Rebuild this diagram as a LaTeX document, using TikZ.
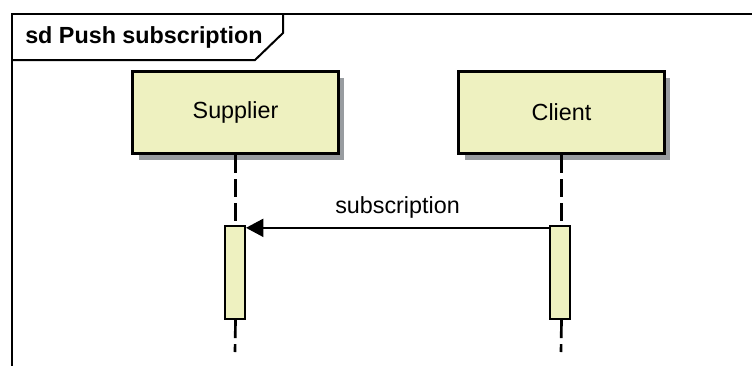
\documentclass[tikz,border=0pt]{standalone}
\usepackage{fontspec}
\setmainfont{Liberation Sans}
\usetikzlibrary{arrows.meta,shadows}
\definecolor{lifefill}{RGB}{238,241,192}
\definecolor{shadowgrey}{RGB}{152,156,160}
\tikzset{
  lifebox/.style={draw=black, line width=2.25pt, fill=lifefill,
    minimum width=154pt, minimum height=61.5pt, inner sep=0pt,
    font=\fontsize{17.5pt}{19pt}\selectfont,
    drop shadow={shadow xshift=4.5pt, shadow yshift=-4.5pt, fill=shadowgrey, opacity=1}},
  actbar/.style={draw=black, line width=1.5pt, fill=lifefill,
    minimum width=15pt, minimum height=70pt, inner sep=0pt},
  lifeline/.style={line width=2pt, dash pattern=on 13.5pt off 4.5pt},
  msg/.style={line width=1.5pt, -{Triangle[length=13pt, width=13.5pt]}},
  framebox/.style={line width=1.5pt}
}
\begin{document}
\begin{tikzpicture}[x=0.75pt, y=-0.75pt]
  \useasboundingbox (0,0) rectangle (752,365);
  % sequence diagram frame and its name tab
  \draw[framebox] (12,366) -- (12,14) -- (753,14);
  \draw[framebox] (12,60) -- (255,60) -- (283,33) -- (283,14);
  \node[anchor=base west, inner sep=0pt, font=\bfseries\fontsize{17.5pt}{19pt}\selectfont]
    (title) at (25,43) {sd Push subscription};
  % lifeline heads
  \node[lifebox] (sup) at (235.5,112.5) {Supplier};
  \node[lifebox] (cli) at (561.5,112.5) {Client};
  % activation bars
  \node[actbar] (supbar) at (235,272.5) {};
  \node[actbar] (clibar) at (560,272.5) {};
  % lifeline ends
  \coordinate (supend) at (235,352);
  \coordinate (cliend) at (561,352);
  % dashed lifelines
  \draw[lifeline] (sup.south) -- (sup.south |- supbar.north);
  \draw[lifeline] (sup.south |- supbar.south) -- (supend);
  \draw[lifeline] (cli.south) -- (cli.south |- clibar.north);
  \draw[lifeline] (cli.south |- clibar.south) -- (cliend);
  % message
  \draw[msg] ([yshift=-2.25pt]clibar.north west) -- ([yshift=-2.25pt]supbar.north east)
    node[midway, anchor=base, yshift=10.5pt, font=\fontsize{17.5pt}{19pt}\selectfont] (lbl) {subscription};
\end{tikzpicture}
\end{document}
